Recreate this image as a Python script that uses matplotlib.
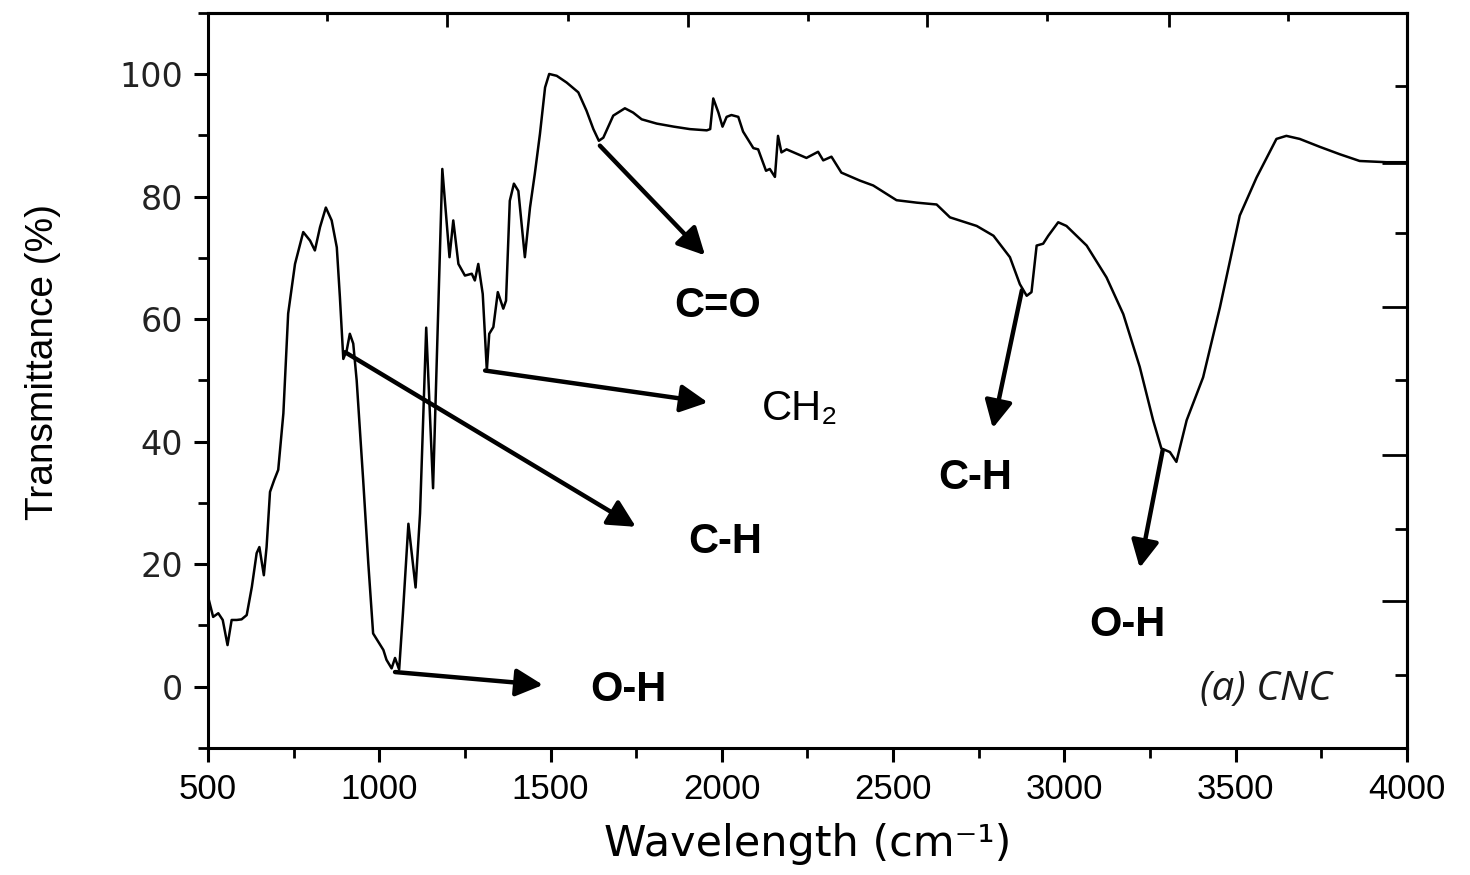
import numpy as np
import matplotlib
matplotlib.use('Agg')
from matplotlib import pyplot as plt

# FTIR spectrum of CNC
wn = [501, 515, 530, 543, 557, 569, 584, 598, 613, 628, 642, 650, 663, 671, 681, 693,
      705, 720, 734, 754, 778, 798, 812, 827, 844, 861, 876, 885, 895, 905, 914, 924,
      934, 953, 968, 982, 1012, 1021, 1036, 1046, 1058, 1069, 1085, 1106, 1119, 1137,
      1157, 1184, 1205, 1216, 1231, 1250, 1270, 1279, 1289, 1302, 1314, 1321, 1333,
      1346, 1362, 1370, 1381, 1393, 1406, 1425, 1440, 1454, 1469, 1484, 1496, 1518,
      1547, 1581, 1605, 1625, 1641, 1654, 1683, 1717, 1741, 1766, 1810, 1860, 1907,
      1956, 1966, 1975, 1990, 2002, 2014, 2028, 2048, 2062, 2092, 2106, 2129, 2140,
      2155, 2164, 2174, 2189, 2247, 2281, 2296, 2320, 2349, 2403, 2442, 2510, 2569,
      2627, 2666, 2744, 2793, 2841, 2870, 2890, 2904, 2919, 2938, 2953, 2982, 3006,
      3065, 3123, 3172, 3220, 3259, 3283, 3308, 3327, 3357, 3405, 3454, 3512, 3561,
      3619, 3648, 3687, 3746, 3804, 3862, 3940, 3999]
trans = [14.5, 11.4, 12.0, 10.9, 6.8, 10.9, 10.9, 11.0, 11.7, 16.3, 21.8, 22.8, 18.2,
         22.8, 31.8, 33.7, 35.4, 44.6, 60.9, 69.0, 74.2, 72.8, 71.2, 75.0, 78.2, 76.1,
         71.7, 63.6, 53.5, 54.9, 57.6, 56.0, 50.0, 33.7, 20.1, 8.7, 6.0, 4.4, 3.0, 4.7,
         2.8, 12.0, 26.6, 16.2, 28.3, 58.6, 32.4, 84.5, 70.1, 76.1, 69.0, 67.1, 67.4,
         66.3, 69.0, 64.1, 51.6, 57.6, 58.7, 64.4, 61.7, 63.0, 79.3, 82.1, 80.9, 70.1,
         78.2, 83.7, 90.2, 97.8, 100.0, 99.7, 98.6, 97.0, 94.0, 91.0, 89.1, 89.6, 93.2,
         94.4, 93.7, 92.6, 91.9, 91.4, 91.0, 90.8, 91.0, 96.0, 93.7, 91.4, 93.0, 93.3,
         93.0, 90.6, 87.9, 87.7, 84.2, 84.5, 83.2, 89.9, 87.2, 87.7, 86.3, 87.3, 85.9,
         86.5, 83.9, 82.6, 81.8, 79.4, 79.0, 78.7, 76.6, 75.2, 73.6, 70.1, 65.7, 63.8,
         64.4, 72.0, 72.3, 73.6, 75.8, 75.2, 72.0, 66.8, 60.8, 52.2, 43.5, 38.9, 38.3,
         36.7, 43.5, 50.5, 61.9, 76.9, 83.1, 89.4, 89.9, 89.4, 88.1, 86.9, 85.8, 85.6,
         85.6]

# band labels and arrows (start on curve -> arrow tip)
labels = ['C=O', 'CH\u2082', 'C-H', 'O-H', 'C-H', 'O-H']
label_x = [1989, 2228, 2009, 1726, 2739, 3185]
label_y = [62.2, 45.4, 23.6, -0.5, 34.0, 10.1]
label_bold = [True, False, True, True, True, True]
arrow_start = [(1644, 88.3), (1309, 51.6), (900, 54.6), (1046, 2.4), (2876, 64.7), (3287, 38.6)]
arrow_end = [(1951, 70.4), (1959, 46.4), (1749, 26.1), (1478, 0.3), (2791, 42.2), (3220, 19.4)]

# odd ticks on the top / right frame
top_major = [1199, 1900, 2599, 3304]
top_minor = [848, 1550, 2251, 2950, 3652]
right_major = [85.5, 61.9, 37.8, 14.0]
right_minor = [98.0, 74.1, 50.0, 25.7, 2.0]

fig = plt.figure(figsize=(14.7, 8.75), dpi=100)
ax = fig.add_axes([0.1415, 0.1451, 0.8156, 0.8404])
ax.plot(wn, trans, color='k', lw=1.8)
ax.set_xlim(500, 4000)
ax.set_ylim(-10, 110)

for s in ax.spines.values():
    s.set_linewidth(2.2)

ax.set_xticks(np.arange(500, 4001, 500))
ax.set_xticks(np.arange(750, 4000, 500), minor=True)
ax.set_yticks(np.arange(0, 101, 20))
ax.set_yticks(np.arange(-10, 111, 20), minor=True)
ax.tick_params(which='major', direction='out', length=10, width=2.2, pad=8)
ax.tick_params(which='minor', direction='out', length=7, width=2.0)
ax.tick_params(top=False, right=False)
for t in ax.get_xticklabels():
    t.set_family('Liberation Sans')
    t.set_fontsize(25)
for t in ax.get_yticklabels():
    t.set_family('DejaVu Sans')
    t.set_fontsize(24)
    t.set_color('#222222')

sec_x = ax.secondary_xaxis('top')
sec_x.set_xticks(top_major)
sec_x.set_xticks(top_minor, minor=True)
sec_x.tick_params(which='major', direction='in', length=10, width=2, labeltop=False)
sec_x.tick_params(which='minor', direction='in', length=6, width=2)
sec_x.spines['top'].set_linewidth(2.2)

sec_y = ax.secondary_yaxis('right')
sec_y.set_yticks(right_major)
sec_y.set_yticks(right_minor, minor=True)
sec_y.tick_params(which='major', direction='in', length=18, width=2, labelright=False)
sec_y.tick_params(which='minor', direction='in', length=9, width=2)
sec_y.spines['right'].set_linewidth(2.2)

ax.set_ylabel('Transmittance (%)', family='Liberation Sans', fontsize=28)
ax.yaxis.set_label_coords(-0.123, 0.525)
ax.set_xlabel('Wavelength (cm\u207b\u00b9)', family='DejaVu Sans', fontsize=31, labelpad=12)

for i in range(len(labels)):
    ax.annotate('', xy=arrow_end[i], xytext=arrow_start[i],
                arrowprops=dict(arrowstyle='-|>,head_length=0.55,head_width=0.28',
                                mutation_scale=30, lw=3.2, color='k',
                                shrinkA=0, shrinkB=0))
    ax.text(label_x[i], label_y[i], labels[i], ha='center', va='center',
            fontsize=30, fontweight='bold' if label_bold[i] else 'normal',
            family=['Liberation Sans', 'DejaVu Sans'], color='k')

ax.text(3588, -0.5, '(a) CNC', ha='center', va='center', fontsize=29,
        style='italic', family=['Open Sans', 'DejaVu Sans'], color='#1a1a1a')

fig.savefig('out.png', dpi=100)
